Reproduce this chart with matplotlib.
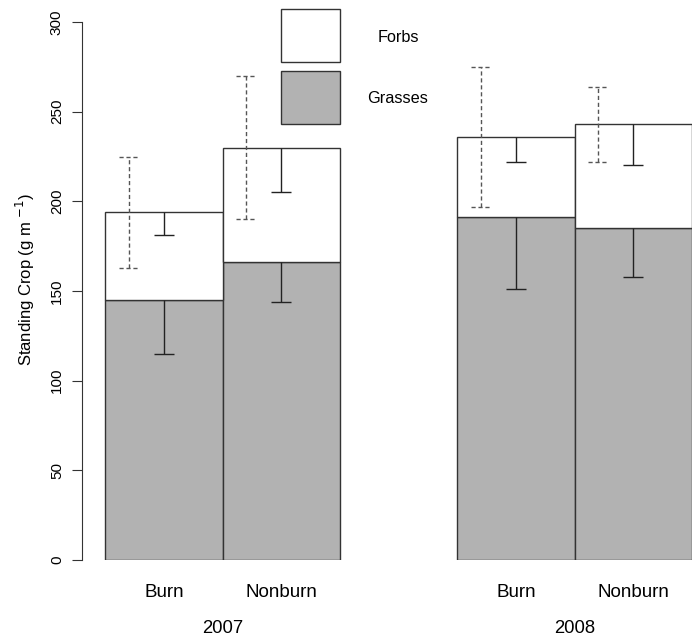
import matplotlib
matplotlib.use('agg')
import matplotlib.pyplot as plt
from matplotlib.patches import Rectangle

plt.rcParams['font.family'] = ['Liberation Sans', 'DejaVu Sans']

# data
years = ['2007', '2008']
treatments = ['Burn', 'Nonburn', 'Burn', 'Nonburn']
grasses = [145, 166, 191, 185]
forbs = [49, 64, 45, 58]
grass_err = [30, 22, 40, 27]
forb_err = [13, 25, 14, 23]
total_err = [31, 40, 39, 21]

GRASS_COL = '#b2b2b2'
EDGE = '#333333'
CAP = 0.085

fig = plt.figure(figsize=(6.97, 6.41), dpi=100)
ax = fig.add_axes([82/697, 81/641, 610/697, 538/641])

xpos = [0.5, 1.5, 3.5, 4.5]
totals = [g + f for g, f in zip(grasses, forbs)]

ax.bar(xpos, grasses, width=1.0, color=GRASS_COL, edgecolor=EDGE, linewidth=1)
ax.bar(xpos, forbs, width=1.0, bottom=grasses, color='white', edgecolor=EDGE, linewidth=1)

# one-sided (downward) error bars for grasses and forbs
for tops, errs in ((grasses, grass_err), (totals, forb_err)):
    lows = [t - e for t, e in zip(tops, errs)]
    ax.vlines(xpos, lows, tops, color='#222222', lw=1)
    ax.hlines(lows, [x - CAP for x in xpos], [x + CAP for x in xpos], color='#222222', lw=1)

# dashed error bars on the total
dx = [x - 0.3 for x in xpos]
lo = [t - e for t, e in zip(totals, total_err)]
hi = [t + e for t, e in zip(totals, total_err)]
ax.vlines(dx, lo, hi, color='#555555', lw=1, linestyles=(0, (3, 2)))
for yy in (lo, hi):
    ax.hlines(yy, [x - CAP for x in dx], [x + CAP for x in dx], color='#555555', lw=1,
              linestyles=(0, (3, 2)))

ax.set_xlim(-0.2, 5.0)
ax.set_ylim(0, 300)
ax.spines['top'].set_visible(False)
ax.spines['right'].set_visible(False)
ax.spines['bottom'].set_visible(False)
ax.spines['left'].set_bounds(0, 300)
ax.spines['left'].set_color('#333333')
ax.set_yticks([0, 50, 100, 150, 200, 250, 300])
ax.tick_params(axis='y', length=7, color='#333333', labelsize=11, pad=6)
for lab in ax.get_yticklabels():
    lab.set_rotation(90)
    lab.set_va('center')
ax.set_xticks(xpos)
ax.set_xticklabels(treatments, fontsize=13.5)
ax.tick_params(axis='x', length=0, pad=17)
for i, yr in enumerate(years):
    ax.text(1.0 + 3 * i, -0.127, yr, transform=ax.get_xaxis_transform(),
            ha='center', va='center', fontsize=13.3)

ax.set_ylabel('Standing Crop (g m $^{-1}$)', fontsize=12)
ax.yaxis.set_label_coords(-0.073, 0.522)

# legend drawn like the original
ax.add_patch(Rectangle((0.3262, 0.925), 0.0967, 0.0985, transform=ax.transAxes,
                       facecolor='white', edgecolor=EDGE, lw=1, clip_on=False))
ax.add_patch(Rectangle((0.3262, 0.8104), 0.0967, 0.0985, transform=ax.transAxes,
                       facecolor=GRASS_COL, edgecolor=EDGE, lw=1, clip_on=False))
ax.text(0.518, 0.972, 'Forbs', transform=ax.transAxes, ha='center', va='center', fontsize=11.7)
ax.text(0.518, 0.857, 'Grasses', transform=ax.transAxes, ha='center', va='center', fontsize=11.7)

plt.savefig('out.png', dpi=100)
